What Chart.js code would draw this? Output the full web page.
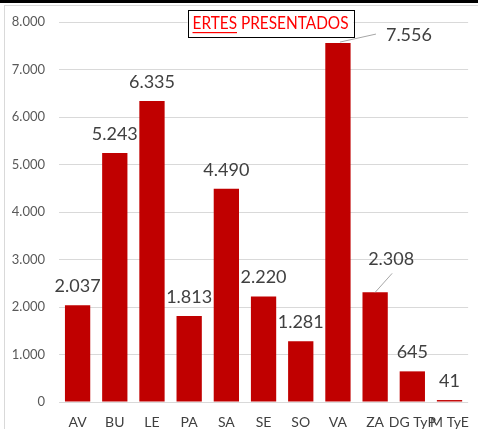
<!DOCTYPE html>
<html>
<head>
<meta charset="utf-8">
<script src="https://cdn.jsdelivr.net/npm/chart.js@4/dist/chart.umd.min.js"></script>
<style>
  html, body { margin: 0; padding: 0; background: #fff; overflow: hidden; width: 478px; height: 429px; }
  #topbar { position: absolute; left: 0; top: 0; width: 478px; height: 3px; background: #000; }
  #frame { position: absolute; left: 4px; top: 5px; width: 480px; height: 440px; border: 1px solid #d9d9d9; }
  #wrap { position: absolute; left: 0; top: 0; width: 481px; height: 429px; }
</style>
</head>
<body>
<div id="topbar"></div>
<div id="frame"></div>
<div id="wrap"><canvas id="chart"></canvas></div>
<script>
// datos
const provincias = ['AV', 'BU', 'LE', 'PA', 'SA', 'SE', 'SO', 'VA', 'ZA', 'DG TyP', 'M TyE'];
const ertes = [2037, 5243, 6335, 1813, 4490, 2220, 1281, 7556, 2308, 645, 41];
const yTicks = [0, 1000, 2000, 3000, 4000, 5000, 6000, 7000, 8000];
const titulo = 'ERTES PRESENTADOS';

function fmt(n) {
    return n.toString().replace(/\B(?=(\d{3})+(?!\d))/g, '.');
}

// etiquetas desplazadas con linea guia (VA y ZA)
const desplazadas = {
    7: { dx: 71, dy: -8, l1: [2, -1], l2: [38, -9] },
    8: { dx: 16, dy: -33, l1: [0, 0], l2: [17, -19] }
};

const etiquetas = {
    id: 'etiquetas',
    afterDatasetsDraw(chart) {
        const ctx = chart.ctx;
        const meta = chart.getDatasetMeta(0);
        ctx.save();
        ctx.font = '18px Lato, "Liberation Sans", sans-serif';
        ctx.fillStyle = '#404040';
        ctx.textAlign = 'center';
        ctx.textBaseline = 'middle';
        meta.data.forEach((bar, i) => {
            const d = desplazadas[i];
            if (d) {
                ctx.strokeStyle = '#a6a6a6';
                ctx.lineWidth = 1;
                ctx.beginPath();
                ctx.moveTo(bar.x + d.l1[0], bar.y + d.l1[1]);
                ctx.lineTo(bar.x + d.l2[0], bar.y + d.l2[1]);
                ctx.stroke();
                ctx.fillText(fmt(ertes[i]), bar.x + d.dx, bar.y + d.dy);
            } else {
                ctx.fillText(fmt(ertes[i]), bar.x, bar.y - 19);
            }
        });
        ctx.restore();
    }
};

// titulo en caja, "ERTES" subrayado (texto algo estrechado, como Calibri)
const cajaTitulo = {
    id: 'cajaTitulo',
    afterDraw(chart) {
        const ctx = chart.ctx;
        ctx.save();
        const cx = 270.5, cy = 23;
        const bw = 166, bh = 27;
        ctx.fillStyle = '#fff';
        ctx.fillRect(cx - bw / 2, cy - bh / 2, bw, bh);
        ctx.strokeStyle = '#000';
        ctx.lineWidth = 1;
        ctx.strokeRect(Math.round(cx - bw / 2) + 0.5, Math.round(cy - bh / 2) + 0.5, bw, bh);
        ctx.font = '18px Lato, "Liberation Sans", sans-serif';
        const w = ctx.measureText(titulo).width;
        const k = 156 / w;
        ctx.translate(cx - 78, cy);
        ctx.scale(k, 1);
        ctx.fillStyle = '#ff0000';
        ctx.textBaseline = 'middle';
        ctx.textAlign = 'left';
        ctx.fillText(titulo, 0, 0);
        const wu = ctx.measureText('ERTES').width;
        ctx.fillRect(0, 9, wu, 1.2);
        ctx.restore();
    }
};

new Chart(document.getElementById('chart'), {
    type: 'bar',
    data: {
        labels: provincias,
        datasets: [{
            data: ertes,
            backgroundColor: '#c00000',
            borderWidth: 0,
            barPercentage: 0.68,
            categoryPercentage: 1
        }]
    },
    options: {
        responsive: true,
        maintainAspectRatio: false,
        animation: false,
        layout: { padding: { top: 22, right: 2, left: 0, bottom: 0 } },
        plugins: {
            legend: { display: false },
            tooltip: { enabled: false }
        },
        scales: {
            x: {
                grid: { display: false, drawTicks: false },
                border: { display: false },
                ticks: {
                    autoSkip: false,
                    maxRotation: 0,
                    minRotation: 0,
                    padding: 12,
                    color: '#404040',
                    font: { size: 14, family: 'Lato, "Liberation Sans", sans-serif' }
                },
                afterFit(axis) { axis.height = 27; }
            },
            y: {
                min: 0,
                max: 8000,
                afterBuildTicks(axis) { axis.ticks = yTicks.map(v => ({ value: v })); },
                grid: { color: '#d9d9d9', drawTicks: false },
                border: { display: false },
                ticks: {
                    padding: 14,
                    color: '#595959',
                    font: { size: 13, family: 'Lato, "Liberation Sans", sans-serif' },
                    callback: v => fmt(v)
                },
                afterFit(axis) { axis.width = 59; }
            }
        }
    },
    plugins: [etiquetas, cajaTitulo]
});
</script>
</body>
</html>
